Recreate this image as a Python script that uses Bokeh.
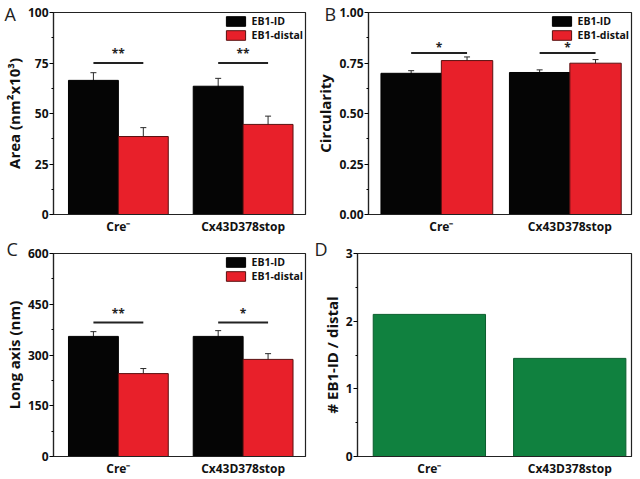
from bokeh.plotting import figure
from bokeh.models import (Range1d, FixedTicker, ColumnDataSource, Whisker, TeeHead,
                          Legend, LegendItem, Title, NumeralTickFormatter)
from bokeh.layouts import column, row
from bokeh.core.properties import value
from bokeh.embed import file_html
from bokeh.resources import INLINE

# ---------------- data ----------------
categories = ["Cre\u207b", "Cx43D378stop"]
series_names = ["EB1-ID", "EB1-distal"]

area_id = [66.4, 63.5]
area_id_err = [3.8, 3.9]
area_distal = [38.6, 44.6]
area_distal_err = [4.4, 4.1]
area_sig = ["**", "**"]
area_sig_y = 75

circ_id = [0.699, 0.703]
circ_id_err = [0.013, 0.013]
circ_distal = [0.762, 0.749]
circ_distal_err = [0.018, 0.018]
circ_sig = ["*", "*"]
circ_sig_y = 0.80

long_id = [355, 355]
long_id_err = [14, 17]
long_distal = [245, 287]
long_distal_err = [15, 17]
long_sig = ["**", "*"]
long_sig_y = 396

ratio = [2.1, 1.45]

# ---------------- style ----------------
FONT = "Open Sans"
BLACK = "#050505"
RED = "#e8202a"
GREEN = "#10813f"
ERR = "#2a2a2a"


def base_fig(width, height, xr, yr, ticks, minor, bl, br, bt, bb, ylabel):
    p = figure(width=width, height=height, x_range=Range1d(*xr), y_range=Range1d(*yr),
               output_backend="svg", toolbar_location=None,
               min_border_left=bl, min_border_right=br, min_border_top=bt, min_border_bottom=bb)
    p.grid.visible = False
    p.outline_line_color = "#222222"
    p.outline_line_width = 1.2
    p.background_fill_color = "white"
    p.border_fill_color = "white"

    p.xaxis.axis_label = None
    p.xaxis.axis_label_standoff = 0
    p.xaxis.ticker = FixedTicker(ticks=list(range(len(categories))))
    p.xaxis.major_label_overrides = {i: c for i, c in enumerate(categories)}
    p.xaxis.major_tick_out = 0
    p.xaxis.major_tick_in = 0
    p.xaxis.minor_tick_out = 0
    p.xaxis.major_label_standoff = 3
    p.xaxis.major_label_text_font = FONT
    p.xaxis.major_label_text_font_style = "bold"
    p.xaxis.major_label_text_font_size = "12px"
    p.xaxis.major_label_text_color = "#111111"
    p.xaxis.axis_line_color = "#222222"
    p.xaxis.axis_line_width = 1.2

    p.yaxis.ticker = FixedTicker(ticks=ticks, minor_ticks=minor)
    p.yaxis.major_tick_out = 4
    p.yaxis.major_tick_in = 0
    p.yaxis.minor_tick_out = 2
    p.yaxis.minor_tick_in = 0
    p.yaxis.major_label_standoff = 1
    p.yaxis.major_label_text_font = FONT
    p.yaxis.major_label_text_font_style = "bold"
    p.yaxis.major_label_text_font_size = "12px"
    p.yaxis.major_label_text_color = "#111111"
    p.yaxis.axis_line_color = "#222222"
    p.yaxis.axis_line_width = 1.2
    p.yaxis.axis_label = ylabel
    p.yaxis.axis_label_text_font = FONT
    p.yaxis.axis_label_text_font_style = "bold"
    p.yaxis.axis_label_text_font_size = "15px"
    p.yaxis.axis_label_text_color = "#111111"
    p.yaxis.axis_label_standoff = 1
    return p


def letter_title(p, letter, dx, standoff):
    t = Title(text=letter, align="left", offset=-dx, standoff=standoff, vertical_align="bottom",
              text_font=FONT, text_font_size="18px", text_font_style="normal",
              text_color="#222222")
    p.add_layout(t, "above")


def grouped(p, id_vals, id_err, di_vals, di_err, sig, sig_y, w_black, w_red, star_dy):
    n = len(categories)
    xs = list(range(n))
    x_id = [x - w_black / 2 for x in xs]
    x_di = [x + w_red / 2 for x in xs]
    src = ColumnDataSource(dict(
        x_id=x_id, x_di=x_di, id=id_vals, di=di_vals,
        id_up=[v + e for v, e in zip(id_vals, id_err)], id_lo=[v - e for v, e in zip(id_vals, id_err)],
        di_up=[v + e for v, e in zip(di_vals, di_err)], di_lo=[v - e for v, e in zip(di_vals, di_err)],
        sig=sig, sig_y=[sig_y] * n, star_y=[sig_y + star_dy] * n,
        sx=[(a + b) / 2 for a, b in zip(x_id, x_di)],
    ))
    r1 = p.vbar(x="x_id", top="id", width=w_black, bottom=0, source=src,
                fill_color=BLACK, line_color="#000000", line_width=1)
    r2 = p.vbar(x="x_di", top="di", width=w_red, bottom=0, source=src,
                fill_color=RED, line_color="#5a1010", line_width=1)
    for base, up, lo in (("x_id", "id_up", "id_lo"), ("x_di", "di_up", "di_lo")):
        wk = Whisker(base=base, upper=up, lower=lo, source=src, line_color=ERR, line_width=1,
                     upper_head=TeeHead(size=6, line_color=ERR, line_width=1),
                     lower_head=TeeHead(size=6, line_color=ERR, line_width=1))
        p.add_layout(wk)
    p.segment(x0="x_id", x1="x_di", y0="sig_y", y1="sig_y", source=src,
              line_color="#222222", line_width=2)
    p.text(x="sx", y="star_y", text="sig", source=src, text_font=value(FONT),
           text_font_style="bold", text_font_size="12px", text_color="#222222",
           text_align="center", text_baseline="middle")
    leg = Legend(items=[LegendItem(label=series_names[0], renderers=[r1]),
                        LegendItem(label=series_names[1], renderers=[r2])],
                 location="top_right", glyph_width=24, glyph_height=12, label_height=12,
                 spacing=0, padding=1, margin=2, label_standoff=4,
                 border_line_color=None, background_fill_alpha=0,
                 label_text_font=FONT, label_text_font_style="bold",
                 label_text_font_size="10.5px", label_text_color="#111111")
    p.add_layout(leg)


LEFT_W = 312
RIGHT_W = 640 - LEFT_W
TOP_H = 237
BOT_H = 479 - TOP_H

# Panel A
pA = base_fig(LEFT_W, TOP_H, (-0.52, 1.5), (0, 100), [0, 25, 50, 75, 100],
              [12.5, 37.5, 62.5, 87.5], 40, 7, 12, 20, "Area (nm\u00b2x10\u00b3)")
grouped(pA, area_id, area_id_err, area_distal, area_distal_err, area_sig, area_sig_y, 0.4, 0.4, 4.5)
letter_title(pA, "A", 49, -26)

# Panel B
pB = base_fig(RIGHT_W, TOP_H, (-0.567, 1.48), (0, 1.0), [0, 0.25, 0.5, 0.75, 1.0],
              [0.125, 0.375, 0.625, 0.875], 45, 9, 12, 20, "Circularity")
pB.yaxis.formatter = NumeralTickFormatter(format="0.00")
grouped(pB, circ_id, circ_id_err, circ_distal, circ_distal_err, circ_sig, circ_sig_y, 0.47, 0.40, 0.028)
letter_title(pB, "B", 44, -26)

# Panel C
pC = base_fig(LEFT_W, BOT_H, (-0.52, 1.5), (0, 600), [0, 150, 300, 450, 600],
              [75, 225, 375, 525], 40, 7, 16, 20, "Long axis (nm)")
grouped(pC, long_id, long_id_err, long_distal, long_distal_err, long_sig, long_sig_y, 0.4, 0.4, 27)
letter_title(pC, "C", 47, -15)

# Panel D
pD = base_fig(RIGHT_W, BOT_H, (-0.512, 1.44), (0, 3), [0, 1, 2, 3],
              [0.5, 1.5, 2.5], 45, 9, 16, 20, "# EB1-ID / distal")
srcD = ColumnDataSource(dict(x=list(range(len(categories))), top=ratio))
pD.vbar(x="x", top="top", width=0.8, bottom=0, source=srcD,
        fill_color=GREEN, line_color="#0b5e2d", line_width=1)
letter_title(pD, "D", 43, -15)

layout = column(row(pA, pB, spacing=0), row(pC, pD, spacing=0), spacing=0)

open("out.html", "w").write(file_html(layout, INLINE))
